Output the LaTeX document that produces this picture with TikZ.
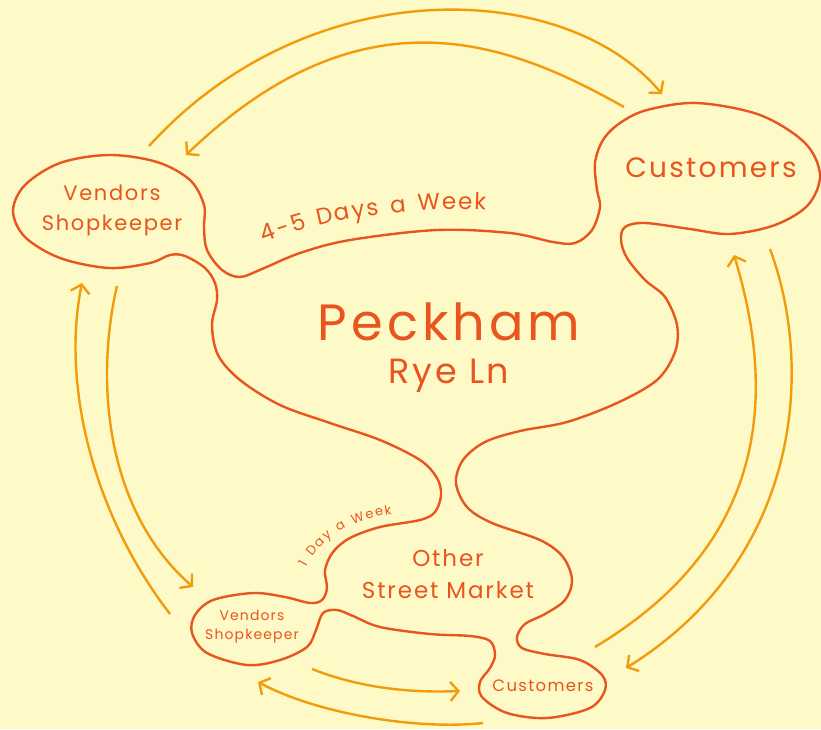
\documentclass[tikz,border=0pt]{standalone}
\usepackage{fontspec}
\setmainfont{Poppins}[LetterSpace=8]
\usetikzlibrary{arrows.meta,decorations.text}

\definecolor{bgcol}{HTML}{FEFAC8}
\definecolor{linecol}{HTML}{E8551E}
\definecolor{arrcol}{HTML}{F29B0C}

\tikzset{
  blob/.style={draw=linecol, line width=2.4pt},
  flow/.style={draw=arrcol, line width=2.4pt, -{Straight Barb[length=8pt,width=19pt]}},
  lbl/.style={text=linecol, align=center, inner sep=0pt}
}

\begin{document}
\begin{tikzpicture}[x=1pt, y=-1pt]
  % Canvas
  \useasboundingbox (0,0) rectangle (821,729);
  \fill[bgcol] (0,0) rectangle (821,729);

  % Outline of the market area
  \draw[blob] plot[smooth cycle, tension=0.55] coordinates {
    (109,155) (157,162) (190,180) (204,205) (204,228) (207,250) (222,270)
    (240,277) (262,269) (300,253) (350,240) (437,230) (510,233) (553,242)
    (575,243) (592,230) (600,207) (597,190) (595,163) (603,140) (620,123)
    (647,110) (697,103) (760,115) (805,143) (820,175) (808,205) (775,225)
    (730,234) (690,229) (645,223) (625,227) (621,240) (627,258) (645,280)
    (665,297) (677,325) (675,352) (657,380) (617,403) (567,422) (520,431)
    (485,442) (463,460) (456,483) (467,507) (492,523) (540,540) (563,557)
    (572,580) (565,600) (545,614) (525,624) (517,637) (522,648) (545,654)
    (580,660) (602,675) (605,690) (590,708) (547,718) (507,713) (482,697)
    (480,682) (490,668) (495,655) (490,641) (470,636) (430,634) (380,627)
    (353,616) (337,610) (323,613) (316,630) (307,647) (280,660) (247,665)
    (207,653) (192,633) (195,615) (213,600) (253,593) (285,597) (310,603)
    (322,600) (327,588) (325,570) (333,552) (350,538) (380,527) (420,520)
    (435,512) (441,495) (437,478) (420,460) (380,440) (330,423) (280,405)
    (240,380) (218,355) (212,325) (217,300) (215,283) (205,268) (185,256)
    (170,255) (150,263) (109,268) (60,258) (25,237) (13,211) (25,185)
    (60,163)};

  % Labels
  \node[lbl, font=\fontsize{21}{30}\selectfont] (vendA) at (112,210) {Vendors\\Shopkeeper};
  \node[lbl, font=\fontsize{28}{30}\selectfont] (custA) at (711,168) {Customers};
  \node[lbl, font=\fontsize{51}{51}\selectfont] (peck) at (449,322) {Peckham};
  \node[lbl, font=\fontsize{35}{35}\selectfont] (rye) at (449,376) {Rye Ln};
  \node[lbl, font=\fontsize{23}{32}\selectfont] (other) at (448,574) {Other\\Street Market};
  \node[lbl, font=\fontsize{14}{19}\selectfont] (vendB) at (252,627) {Vendors\\Shopkeeper};
  \node[lbl, font=\fontsize{16.5}{17}\selectfont] (custB) at (543,686) {Customers};

  % Curved captions
  \path[decorate, decoration={text along path, text align=fit to path,
    text={|\color{linecol}\fontsize{23}{23}\selectfont|4-5 Days a Week}}]
    (264,243) .. controls (330,217) and (410,207) .. (486,210);
  \path[decorate, decoration={text along path, text align=fit to path,
    text={|\color{linecol}\fontsize{13}{13}\selectfont|1 Day a Week}}]
    (306,567) .. controls (322,537) and (350,520) .. (392,514);

  % Arrow ends
  \coordinate (a1) at (149,146);  \coordinate (a2) at (662,94);
  \coordinate (b1) at (624,107);  \coordinate (b2) at (186,155);
  \coordinate (c1) at (170,614);  \coordinate (c2) at (82,283);
  \coordinate (d1) at (117,286);  \coordinate (d2) at (193,587);
  \coordinate (e1) at (595,647);  \coordinate (e2) at (734,255);
  \coordinate (f1) at (770,249);  \coordinate (f2) at (626,668);
  \coordinate (g1) at (312,669);  \coordinate (g2) at (460,691);
  \coordinate (h1) at (483,723);  \coordinate (h2) at (258,682);

  % Flows
  \draw[flow] (a1) .. controls (310,-31) and (566,-21) .. (a2);
  \draw[flow] (b1) .. controls (512,44) and (365,-17) .. (b2);
  \draw[flow] (c1) .. controls (90,510) and (62,380) .. (c2);
  \draw[flow] (d1) .. controls (95,380) and (105,510) .. (d2);
  \draw[flow] (e1) .. controls (765,545) and (778,400) .. (e2);
  \draw[flow] (f1) .. controls (815,370) and (800,560) .. (f2);
  \draw[flow] (g1) .. controls (360,688) and (410,693) .. (g2);
  \draw[flow] (h1) .. controls (420,730) and (320,715) .. (h2);
\end{tikzpicture}
\end{document}
